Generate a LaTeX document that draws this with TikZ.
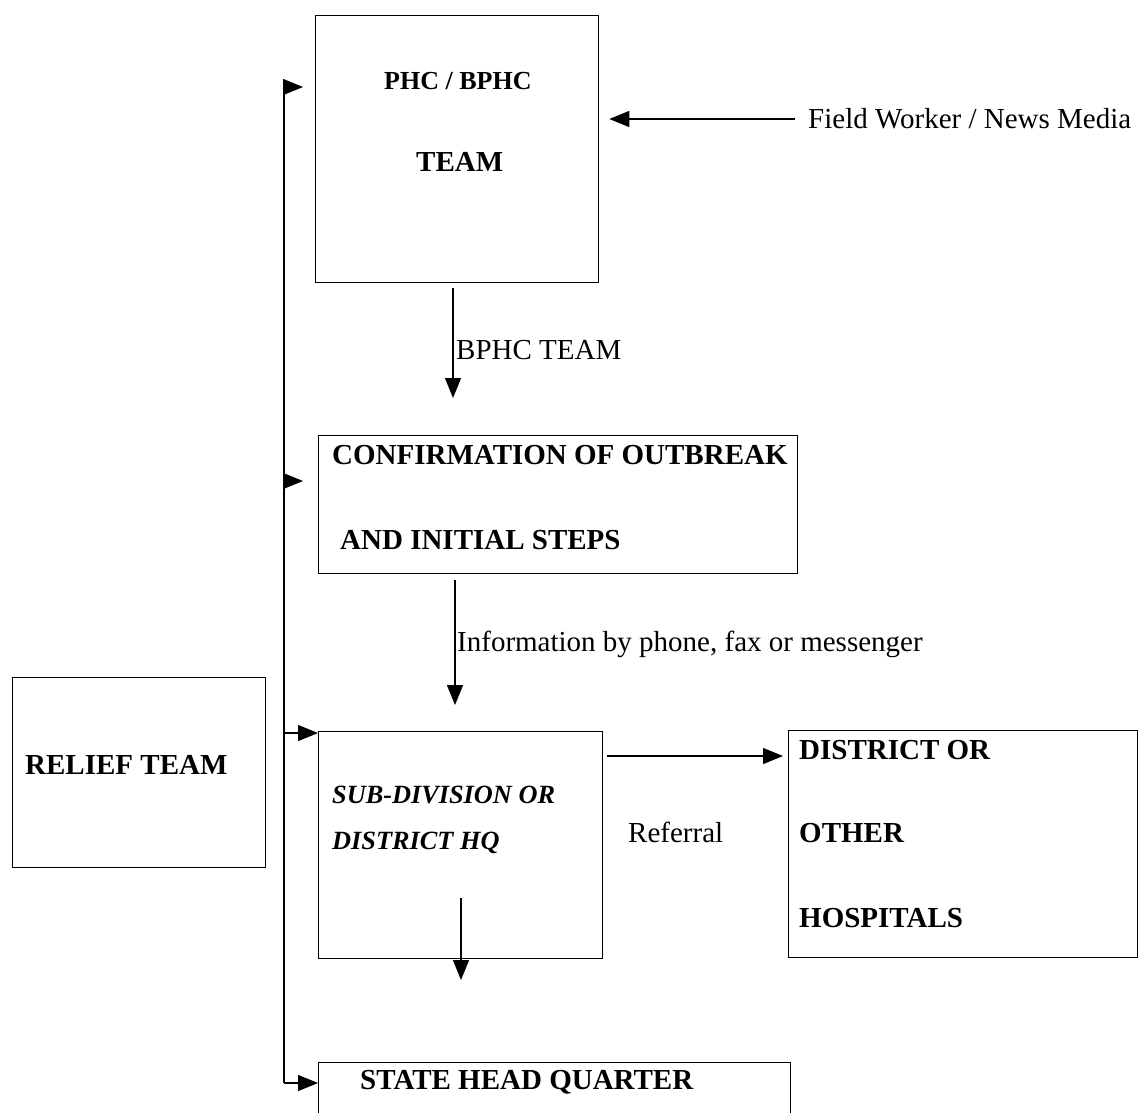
\documentclass[tikz,border=0pt]{standalone}
\usepackage{fontspec}
\setmainfont{Liberation Serif}
\usetikzlibrary{arrows.meta}
\begin{document}
\begin{tikzpicture}[x=1pt,y=-1pt,
  box/.style={draw, line width=1.3pt, inner sep=0, anchor=north west},
  lbl/.style={inner sep=0, anchor=base west, font=\fontsize{29}{34}\selectfont},
  blbl/.style={inner sep=0, anchor=base west, font=\fontsize{29}{34}\selectfont\bfseries},
  arr/.style={line width=1.3pt, -{Triangle[length=20pt,width=16pt]}},
  ln/.style={line width=1.3pt}]
\useasboundingbox (0,0) rectangle (1139,1112);
\clip (0,0) rectangle (1139,1112);
% boxes
\node[box, minimum width=283pt, minimum height=267pt] (phc) at (315,15) {};
\node[box, minimum width=479pt, minimum height=138pt] (conf) at (318,435) {};
\node[box, minimum width=284pt, minimum height=227pt] (sub) at (318,731) {};
\node[box, minimum width=349pt, minimum height=227pt] (dist) at (788,730) {};
\node[box, minimum width=253pt, minimum height=190pt] (relief) at (12,677) {};
\node[box, minimum width=472pt, minimum height=80pt] (state) at (318,1062) {};
% texts
\node[inner sep=0, anchor=base west, font=\fontsize{26}{30}\selectfont\bfseries] (t1) at (384,89) {PHC / BPHC};
\node[blbl] (t2) at (416,171) {TEAM};
\node[lbl] (fw) at (808,128) {Field Worker / News Media};
\node[lbl] (t3) at (456,359) {BPHC TEAM};
\node[blbl] (t4) at (332,464) {CONFIRMATION OF OUTBREAK};
\node[blbl] (t5) at (340,549) {AND INITIAL STEPS};
\node[lbl] (t6) at (457,651) {Information by phone, fax or messenger};
\node[inner sep=0, anchor=base west, font=\fontsize{26.3}{30}\selectfont\bfseries\itshape] (t7) at (332,803) {SUB-DIVISION OR};
\node[inner sep=0, anchor=base west, font=\fontsize{26.3}{30}\selectfont\bfseries\itshape] (t8) at (332,849) {DISTRICT HQ};
\node[lbl] (t9) at (628,842) {Referral};
\node[blbl] (t10) at (799,759) {DISTRICT OR};
\node[blbl] (t11) at (799,842) {OTHER};
\node[blbl] (t12) at (799,927) {HOSPITALS};
\node[blbl] (t13) at (25,774) {RELIEF TEAM};
\node[blbl] (t14) at (360,1089) {STATE HEAD QUARTER};
% coordinates
\coordinate (b1) at (284,87);
\coordinate (b2) at (284,481);
\coordinate (b3) at (284,733);
\coordinate (b4) at (284,1083);
\coordinate (fwc) at (795,119);
\coordinate (a1s) at (453,288);
\coordinate (a1e) at (453,398);
\coordinate (a2s) at (455,580);
\coordinate (a2e) at (455,705);
\coordinate (a3s) at (461,898);
\coordinate (a3e) at (461,980);
\coordinate (r1) at (607,756);
% connectors
\draw[ln] (b1) -- (b4);
\draw[arr, shorten >=12pt] (b1) -- (b1 -| phc.west);
\draw[arr, shorten >=15pt] (b2) -- (b2 -| conf.west);
\draw[arr] (b3) -- (b3 -| sub.west);
\draw[arr] (b4) -- (b4 -| state.west);
\draw[arr, shorten >=10pt] (fwc) -- (fwc -| phc.east);
\draw[arr] (a1s) -- (a1e);
\draw[arr] (a2s) -- (a2e);
\draw[arr] (a3s) -- (a3e);
\draw[arr, shorten >=5pt] (r1) -- (r1 -| dist.west);
\end{tikzpicture}
\end{document}
